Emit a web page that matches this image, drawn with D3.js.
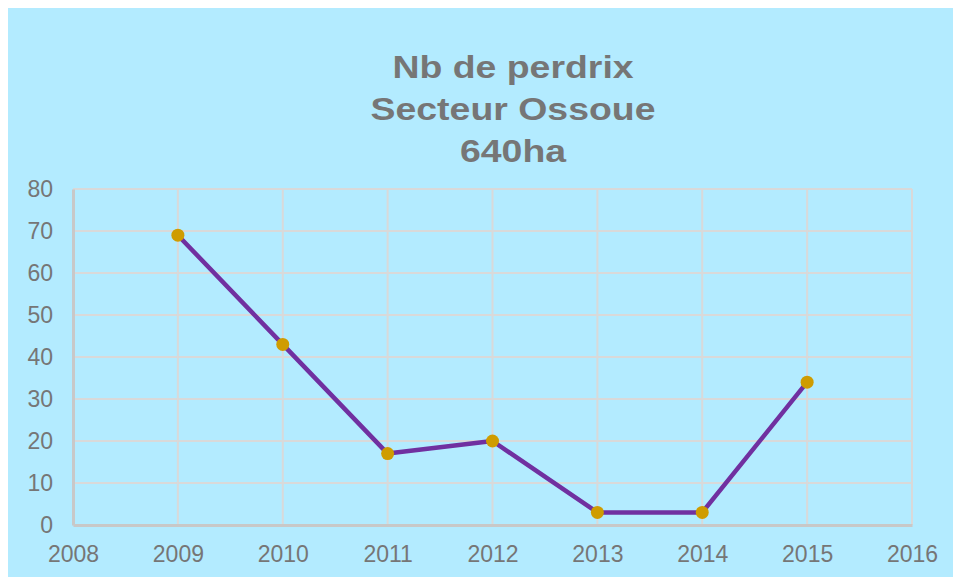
<!DOCTYPE html>
<html><head><meta charset="utf-8">
<script src="https://cdn.jsdelivr.net/npm/d3@7"></script>
<style>html,body{margin:0;padding:0;background:#fff;}svg{display:block;}</style>
</head><body>
<svg id="chart" width="953" height="577"></svg>
<script>
const years = [2009, 2010, 2011, 2012, 2013, 2014, 2015];
const perdrix = [69, 43, 17, 20, 3, 3, 34];
const xTicks = [2008, 2009, 2010, 2011, 2012, 2013, 2014, 2015, 2016];
const yTicks = [0, 10, 20, 30, 40, 50, 60, 70, 80];
const titleLines = ["Nb de perdrix", "Secteur Ossoue", "640ha"];

const svg = d3.select("#chart");
svg.append("rect").attr("x", 8).attr("y", 8).attr("width", 945).attr("height", 569).attr("fill", "#B3EBFF");

const m = {left: 73, right: 912, top: 189, bottom: 525};
const x = d3.scaleLinear().domain([2008, 2016]).range([m.left, m.right]);
const y = d3.scaleLinear().domain([0, 80]).range([m.bottom, m.top]);
const font = "'Liberation Sans', Arial, sans-serif";
const txt = "#767676";

// grid
svg.append("g").selectAll("line").data(yTicks.filter(d => d > 0)).join("line")
  .attr("x1", m.left).attr("x2", m.right).attr("y1", d => y(d)).attr("y2", d => y(d))
  .attr("stroke", "#D9D9D9").attr("stroke-width", 2);
svg.append("g").selectAll("line").data(xTicks.filter(d => d > 2008)).join("line")
  .attr("x1", d => x(d)).attr("x2", d => x(d)).attr("y1", m.top).attr("y2", m.bottom)
  .attr("stroke", "#D9D9D9").attr("stroke-width", 2);

// axes
const yAxis = svg.append("g").attr("transform", `translate(${m.left},0)`)
  .call(d3.axisLeft(y).tickValues(yTicks).tickSize(0).tickPadding(20));
const xAxis = svg.append("g").attr("transform", `translate(0,${m.bottom})`)
  .call(d3.axisBottom(x).tickValues(xTicks).tickFormat(d3.format("d")).tickSize(0).tickPadding(21));
[yAxis, xAxis].forEach(a => {
  a.select(".domain").attr("stroke", "#C8C8C8").attr("stroke-width", 3);
  a.selectAll("text").attr("fill", txt).style("font-family", font).style("font-size", "23px");
});

// line
const line = d3.line().x((d, i) => x(years[i])).y(d => y(d));
svg.append("path").datum(perdrix).attr("d", line).attr("fill", "none")
  .attr("stroke", "#7030A0").attr("stroke-width", 4.5).attr("stroke-linejoin", "round");
svg.append("g").selectAll("circle").data(perdrix).join("circle")
  .attr("cx", (d, i) => x(years[i])).attr("cy", d => y(d)).attr("r", 6.5)
  .attr("fill", "#CF9C00");

// title
svg.append("text").attr("transform", "translate(513,78) scale(1.17,1)").attr("text-anchor", "middle")
  .attr("fill", txt).style("font-family", font).style("font-size", "32px").style("font-weight", "bold")
  .selectAll("tspan").data(titleLines).join("tspan")
  .attr("x", 0).attr("dy", (d, i) => i === 0 ? 0 : 42).text(d => d);
</script>
</body></html>
